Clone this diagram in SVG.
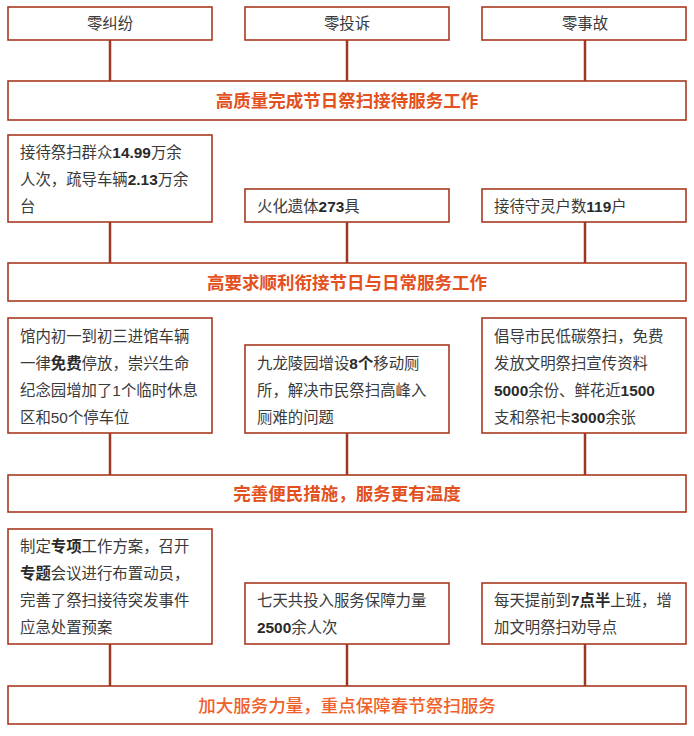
<svg xmlns="http://www.w3.org/2000/svg" width="694" height="736" viewBox="0 0 694 736">
<style>
.box{fill:#fff;stroke:#a93a22;stroke-width:1.6}
.ban{fill:#fff;stroke:#a93a22;stroke-width:1.6}
.ln{stroke:#9e3620;stroke-width:2.5;fill:none}
.t{font-family:"Liberation Sans","Noto Sans CJK SC",sans-serif;font-size:15.4px;fill:#3a3a3a}
.c{text-anchor:middle}
.b{font-weight:bold;fill:#2a2a2a}
.h{font-family:"Noto Sans CJK SC","Liberation Sans",sans-serif;font-size:17.5px;font-weight:bold;fill:#e2511e;text-anchor:middle}
.h2{font-weight:500;fill:#f0602a}
</style>
<rect width="694" height="736" fill="#fff"/>
<g id="connectors">
<path class="ln" d="M110 40V81M347 40V81M585 40V81"/>
<path class="ln" d="M110 222V263M347 222V263M585 222V263"/>
<path class="ln" d="M110 433V475M347 433V475M585 433V475"/>
<path class="ln" d="M110 644V686M347 644V686M585 644V686"/>
</g>
<g id="n1"><rect class="box" x="8" y="7" width="204" height="33"/><text class="t c" x="110" y="29">零纠纷</text></g>
<g id="n2"><rect class="box" x="245" y="7" width="204" height="33"/><text class="t c" x="347" y="29">零投诉</text></g>
<g id="n3"><rect class="box" x="482" y="7" width="204" height="33"/><text class="t c" x="585" y="29">零事故</text></g>
<g id="b1"><rect class="ban" x="8" y="81" width="678" height="39"/><text class="h" x="347" y="107">高质量完成节日祭扫接待服务工作</text></g>

<g id="n4"><rect class="box" x="8" y="135" width="204" height="87"/>
<text class="t" x="20" y="158">接待祭扫群众<tspan class="b">14.99</tspan>万余</text>
<text class="t" x="20" y="185">人次，疏导车辆<tspan class="b">2.13</tspan>万余</text>
<text class="t" x="20" y="212">台</text></g>
<g id="n5"><rect class="box" x="245" y="189" width="204" height="33"/><text class="t" x="257" y="212">火化遗体<tspan class="b">273</tspan>具</text></g>
<g id="n6"><rect class="box" x="482" y="189" width="204" height="33"/><text class="t" x="494" y="212">接待守灵户数<tspan class="b">119</tspan>户</text></g>
<g id="b2"><rect class="ban" x="8" y="263" width="678" height="38"/><text class="h" x="347" y="289">高要求顺利衔接节日与日常服务工作</text></g>

<g id="n7"><rect class="box" x="8" y="318" width="204" height="115"/>
<text class="t" x="20" y="342">馆内初一到初三进馆车辆</text>
<text class="t" x="20" y="369">一律<tspan class="b">免费</tspan>停放，崇兴生命</text>
<text class="t" x="20" y="396">纪念园增加了1个临时休息</text>
<text class="t" x="20" y="423">区和50个停车位</text></g>
<g id="n8"><rect class="box" x="245" y="345" width="204" height="88"/>
<text class="t" x="257" y="369">九龙陵园增设<tspan class="b">8个</tspan>移动厕</text>
<text class="t" x="257" y="396">所，解决市民祭扫高峰入</text>
<text class="t" x="257" y="423">厕难的问题</text></g>
<g id="n9"><rect class="box" x="482" y="318" width="204" height="115"/>
<text class="t" x="494" y="342">倡导市民低碳祭扫，免费</text>
<text class="t" x="494" y="369">发放文明祭扫宣传资料</text>
<text class="t" x="494" y="396"><tspan class="b">5000</tspan>余份、鲜花近<tspan class="b">1500</tspan></text>
<text class="t" x="494" y="423">支和祭祀卡<tspan class="b">3000</tspan>余张</text></g>
<g id="b3"><rect class="ban" x="8" y="475" width="678" height="37"/><text class="h" x="347" y="500">完善便民措施，服务更有温度</text></g>

<g id="n10"><rect class="box" x="8" y="529" width="204" height="115"/>
<text class="t" x="20" y="552">制定<tspan class="b">专项</tspan>工作方案，召开</text>
<text class="t" x="20" y="579"><tspan class="b">专题</tspan>会议进行布置动员，</text>
<text class="t" x="20" y="606">完善了祭扫接待突发事件</text>
<text class="t" x="20" y="633">应急处置预案</text></g>
<g id="n11"><rect class="box" x="245" y="583" width="204" height="61"/>
<text class="t" x="257" y="606">七天共投入服务保障力量</text>
<text class="t" x="257" y="633"><tspan class="b">2500</tspan>余人次</text></g>
<g id="n12"><rect class="box" x="482" y="583" width="204" height="61"/>
<text class="t" x="494" y="606">每天提前到<tspan class="b">7点半</tspan>上班，增</text>
<text class="t" x="494" y="633">加文明祭扫劝导点</text></g>
<g id="b4"><rect class="ban" x="8" y="686" width="678" height="38"/><text class="h h2" x="347" y="712">加大服务力量，重点保障春节祭扫服务</text></g>
</svg>
